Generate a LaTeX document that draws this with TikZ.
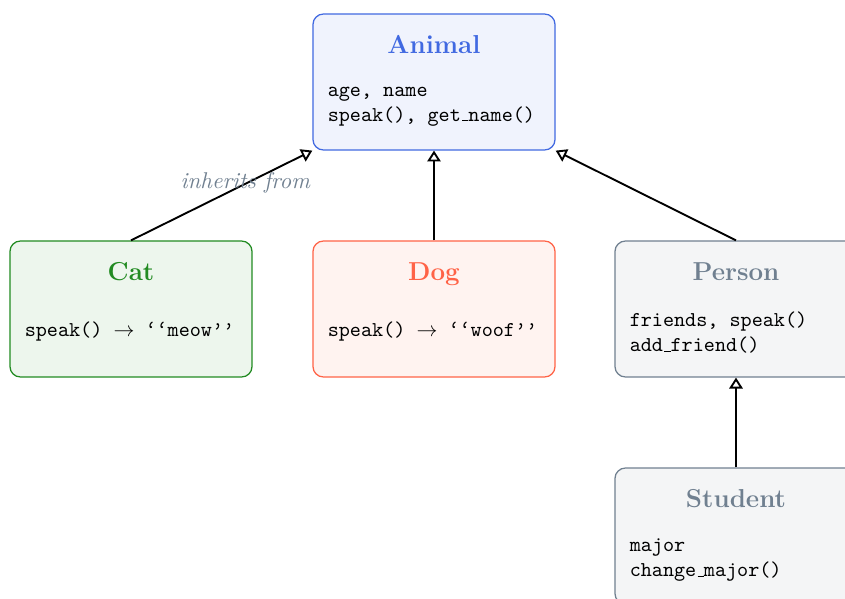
\documentclass[tikz,border=0pt]{standalone}
\usetikzlibrary{arrows.meta,calc}
\definecolor{cRoyal}{RGB}{65,105,225}
\definecolor{cForest}{RGB}{34,139,34}
\definecolor{cTomato}{RGB}{255,99,71}
\definecolor{cSlate}{RGB}{112,128,144}
\newcommand\usc{\kern.06em\vbox{\hrule width.3em}}
\begin{document}
\begin{tikzpicture}[x=0.478pt,y=-0.478pt,
  classbox/.style={draw=#1, fill=#1!8, rounded corners=5pt, minimum width=115.7pt,
    minimum height=65pt, line width=0.6pt, inner sep=0pt},
  ctitle/.style={font=\fontsize{12.4}{15}\selectfont\bfseries, text=#1, anchor=base, inner sep=0pt},
  cbody/.style={font=\fontsize{10.1}{12}\selectfont\ttfamily, align=left, anchor=west, inner sep=0pt},
  inh/.style={line width=0.9pt, -{Triangle[open,length=5.2pt,width=6.4pt]}},
  inhlabel/.style={font=\fontsize{10.9}{13}\selectfont\itshape, text=cSlate, inner sep=0pt}]
\useasboundingbox (0,0) rectangle (845,599);
\clip (0,0) rectangle (845,599);

\node[classbox=cRoyal]  (animal)  at (434,82)  {};
\node[classbox=cForest] (cat)     at (131,309) {};
\node[classbox=cTomato] (dog)     at (434,309) {};
\node[classbox=cSlate]  (person)  at (736,309) {};
\node[classbox=cSlate]  (student) at (736,536) {};

\node[ctitle=cRoyal]  (animalT)  at ($(animal.north)+(0,40)$)  {Animal};
\node[ctitle=cForest] (catT)     at ($(cat.north)+(0,40)$)     {Cat};
\node[ctitle=cTomato] (dogT)     at ($(dog.north)+(0,40)$)     {Dog};
\node[ctitle=cSlate]  (personT)  at ($(person.north)+(0,40)$)  {Person};
\node[ctitle=cSlate]  (studentT) at ($(student.north)+(0,40)$) {Student};

\node[cbody] (animalB)  at ($(animal.north west)+(15,93)$)  {age, name\\speak(), get\usc name()};
\node[cbody] (catB)     at ($(cat.north west)+(15,91)$)     {speak() $\rightarrow$ ‘‘meow’’};
\node[cbody] (dogB)     at ($(dog.north west)+(15,91)$)     {speak() $\rightarrow$ ‘‘woof’’};
\node[cbody] (personB)  at ($(person.north west)+(15,92)$)  {friends, speak()\\add\usc friend()};
\node[cbody] (studentB) at ($(student.north west)+(15,93)$) {major\\change\usc major()};

\draw[inh] (cat.north) -- (animal.south west)
  node[inhlabel, pos=0.63, yshift=0.5pt] (lbl) {inherits from};
\draw[inh] (dog.north) -- (animal.south);
\draw[inh] (person.north) -- (animal.south east);
\draw[inh] (student.north) -- (person.south);
\end{tikzpicture}
\end{document}
